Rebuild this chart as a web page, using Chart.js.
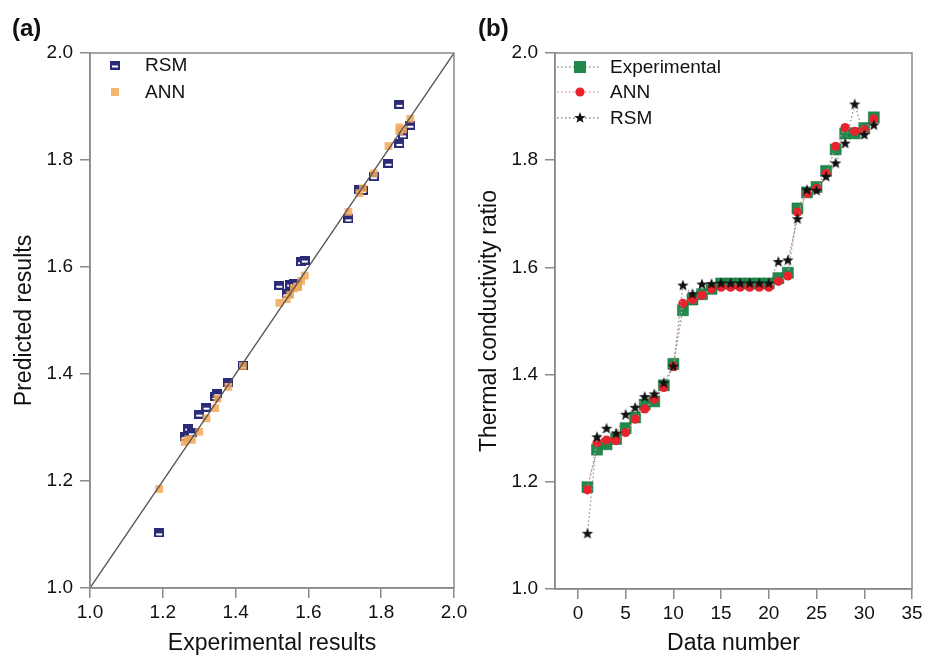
<!DOCTYPE html>
<html>
<head>
<meta charset="utf-8">
<script src="https://cdn.jsdelivr.net/npm/chart.js@4.4.1/dist/chart.umd.min.js"></script>
<style>
body { margin:0; background:#fff; width:934px; height:657px; position:relative; overflow:hidden; font-family:"Liberation Sans", Arial, sans-serif; }
canvas { position:absolute; top:0; }
#chartA { left:0; }
#chartB { left:467px; }
.panel-tag { position:absolute; font-weight:bold; font-size:24px; color:#111; }
</style>
</head>
<body>
<canvas id="chartA" width="467" height="657"></canvas>
<canvas id="chartB" width="467" height="657"></canvas>
<div class="panel-tag" style="left:12px;top:14px">(a)</div>
<div class="panel-tag" style="left:478px;top:14px">(b)</div>
<script>
const dataNumber = [1, 2, 3, 4, 5, 6, 7, 8, 9, 10, 11, 12, 13, 14, 15, 16, 17, 18, 19, 20, 21, 22, 23, 24, 25, 26, 27, 28, 29, 30, 31];
const expData = [1.19, 1.26, 1.27, 1.28, 1.30, 1.32, 1.344, 1.35, 1.38, 1.42, 1.52, 1.54, 1.55, 1.56, 1.57, 1.57, 1.57, 1.57, 1.57, 1.57, 1.58, 1.59, 1.71, 1.74, 1.75, 1.78, 1.82, 1.85, 1.85, 1.86, 1.88];
const annData = [1.185, 1.273, 1.278, 1.277, 1.292, 1.317, 1.336, 1.354, 1.376, 1.415, 1.533, 1.54, 1.548, 1.56, 1.563, 1.563, 1.563, 1.563, 1.563, 1.563, 1.574, 1.584, 1.703, 1.738, 1.747, 1.775, 1.826, 1.861, 1.854, 1.857, 1.877];
const rsmData = [1.103, 1.283, 1.299, 1.29, 1.325, 1.338, 1.358, 1.363, 1.384, 1.415, 1.566, 1.55, 1.568, 1.569, 1.57, 1.57, 1.57, 1.57, 1.57, 1.57, 1.61, 1.613, 1.69, 1.744, 1.743, 1.769, 1.794, 1.831, 1.904, 1.847, 1.865];

const FONT = '"Liberation Sans", Arial, sans-serif';
const AXIS = '#8a8a8a';
const navy = '#2b2b78';
const orange = 'rgba(242,168,88,0.85)';
const green = '#1f8a4c';
const red = '#e8232d';

// little marker bitmaps
function rsmBox() {
  const c = document.createElement('canvas');
  c.width = 10; c.height = 9;
  const g = c.getContext('2d');
  g.fillStyle = navy; g.fillRect(0, 0, 10, 9);
  g.fillStyle = '#ffffff'; g.fillRect(2, 5, 6, 2);
  return c;
}
function starImage(r, color) {
  const s = Math.ceil(r * 2) + 2;
  const c = document.createElement('canvas');
  c.width = c.height = s;
  const g = c.getContext('2d');
  g.fillStyle = color;
  g.beginPath();
  for (let k = 0; k < 10; k++) {
    const rad = k % 2 ? r * 0.42 : r;
    const a = -Math.PI / 2 + k * Math.PI / 5;
    g.lineTo(s / 2 + rad * Math.cos(a), s / 2 + rad * Math.sin(a));
  }
  g.closePath();
  g.fill();
  return c;
}
const boxImg = rsmBox();
const starImg = starImage(6, '#111');

// frame round the plot area
const frame = {
  id: 'frame',
  afterDatasetsDraw(chart) {
    const a = chart.chartArea, g = chart.ctx;
    g.save();
    g.strokeStyle = AXIS; g.lineWidth = 1.5;
    g.strokeRect(a.left, a.top, a.right - a.left, a.bottom - a.top);
    g.restore();
  }
};

function legendPlugin(items) {
  return {
    id: 'boxLegend',
    afterDraw(chart) {
      const a = chart.chartArea, g = chart.ctx;
      g.save();
      g.font = '19px ' + FONT;
      g.textBaseline = 'middle';
      items.forEach(it => {
        const y = a.top + it.dy;
        if (it.line) {
          g.strokeStyle = it.line; g.lineWidth = 1.3; g.setLineDash([1.5, 2.5]);
          g.beginPath(); g.moveTo(a.left + 2, y); g.lineTo(a.left + 46, y); g.stroke();
          g.setLineDash([]);
        }
        it.mark(g, a.left + 25, y);
        g.fillStyle = '#111';
        g.fillText(it.text, a.left + 55, y + 1);
      });
      g.restore();
    }
  };
}

function axisOpts(min, max, step, title, fixed, isX, titlePad) {
  return {
    type: 'linear',
    min: min, max: max,
    border: { display: true, color: AXIS, width: 1.5 },
    grid: { drawOnChartArea: false, drawTicks: true, tickLength: 10, color: AXIS, lineWidth: 1.5 },
    ticks: {
      stepSize: step, includeBounds: false,
      color: '#111', font: { family: FONT, size: 19 }, padding: isX ? 3 : 7,
      callback: v => fixed ? v.toFixed(1) : v
    },
    title: { display: true, text: title, color: '#111', font: { family: FONT, size: 23 }, padding: titlePad }
  };
}

// fixed axis band sizes so the plot areas line up
const fixHeight = h => s => { s.height = h; s.paddingLeft = 0; s.paddingRight = 0; };
const fixWidth = w => s => { s.width = w; s.paddingTop = 0; s.paddingBottom = 0; };

// (a) predicted vs experimental
const xa = axisOpts(1, 2, 0.2, 'Experimental results', true, true, { top: 0, bottom: 0 });
xa.afterFit = fixHeight(69);
const ya = axisOpts(1, 2, 0.2, 'Predicted results', true, false, { top: 11, bottom: 0 });
ya.afterFit = fixWidth(90);

new Chart(document.getElementById('chartA'), {
  type: 'scatter',
  data: {
    datasets: [
      {
        label: 'diagonal',
        type: 'line',
        data: [{ x: 1, y: 1 }, { x: 2, y: 2 }],
        borderColor: '#555', borderWidth: 1.3, pointRadius: 0, order: 0
      },
      {
        label: 'RSM',
        data: expData.map((v, i) => ({ x: v, y: rsmData[i] })),
        pointStyle: boxImg, pointRadius: 5, order: 2
      },
      {
        label: 'ANN',
        data: expData.map((v, i) => ({ x: v, y: annData[i] })),
        pointStyle: 'rect', pointRadius: 5.5, backgroundColor: orange, borderColor: orange, borderWidth: 0, order: 1
      }
    ]
  },
  options: {
    responsive: false, animation: false,
    layout: { padding: { top: 53, right: 13, left: 0, bottom: 0 } },
    plugins: { legend: { display: false }, tooltip: { enabled: false } },
    scales: { x: xa, y: ya }
  },
  plugins: [frame, legendPlugin([
    { dy: 12, text: 'RSM', mark: (g, x, y) => g.drawImage(boxImg, x - 5, y - 4.5) },
    { dy: 39, text: 'ANN', mark: (g, x, y) => { g.fillStyle = orange; g.fillRect(x - 4, y - 4, 8, 8); } }
  ])]
});

// (b) ratio against data number
const xb = axisOpts(-2.4, 35, 5, 'Data number', false, true, { top: 0, bottom: 0 });
xb.afterFit = fixHeight(68);
const yb = axisOpts(1, 2, 0.2, 'Thermal conductivity ratio', true, false, { top: 9, bottom: 0 });
yb.afterFit = fixWidth(88);

new Chart(document.getElementById('chartB'), {
  type: 'line',
  data: {
    datasets: [
      {
        label: 'Experimental',
        data: dataNumber.map((n, i) => ({ x: n, y: expData[i] })),
        borderColor: '#8a9a90', borderWidth: 1.2, borderDash: [1.5, 2.5],
        pointStyle: 'rect', pointRadius: 7.8, backgroundColor: green, pointBorderColor: '#17703c', pointBorderWidth: 0.5,
        order: 3
      },
      {
        label: 'ANN',
        data: dataNumber.map((n, i) => ({ x: n, y: annData[i] })),
        borderColor: '#e6a0a4', borderWidth: 1.2, borderDash: [1.5, 2.5],
        pointStyle: 'circle', pointRadius: 4.6, backgroundColor: red, pointBorderColor: red, pointBorderWidth: 0,
        order: 2
      },
      {
        label: 'RSM',
        data: dataNumber.map((n, i) => ({ x: n, y: rsmData[i] })),
        borderColor: '#8c8c8c', borderWidth: 1.2, borderDash: [1.5, 2.5],
        pointStyle: starImg, pointRadius: 6,
        order: 1
      }
    ]
  },
  options: {
    responsive: false, animation: false,
    layout: { padding: { top: 53, right: 22, left: 0, bottom: 0 } },
    plugins: { legend: { display: false }, tooltip: { enabled: false } },
    scales: { x: xb, y: yb }
  },
  plugins: [frame, legendPlugin([
    { dy: 14, text: 'Experimental', line: '#8a9a90', mark: (g, x, y) => { g.fillStyle = green; g.fillRect(x - 6, y - 6, 12, 12); } },
    { dy: 39, text: 'ANN', line: '#e6a0a4', mark: (g, x, y) => { g.fillStyle = red; g.beginPath(); g.arc(x, y, 4.6, 0, Math.PI * 2); g.fill(); } },
    { dy: 65, text: 'RSM', line: '#8c8c8c', mark: (g, x, y) => g.drawImage(starImg, x - starImg.width / 2, y - starImg.height / 2) }
  ])]
});
</script>
</body>
</html>
